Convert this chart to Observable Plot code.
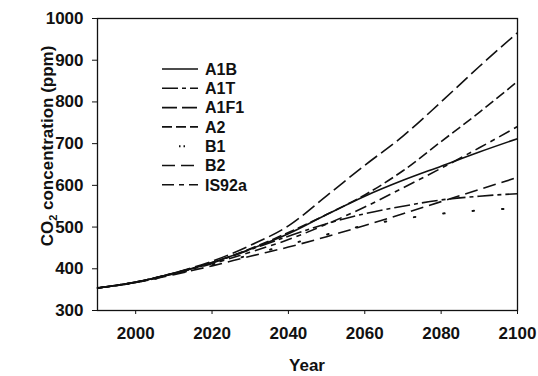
<!DOCTYPE html>
<html>
<head>
<meta charset="utf-8">
<script src="https://cdn.jsdelivr.net/npm/d3@7"></script>
<script src="https://cdn.jsdelivr.net/npm/@observablehq/plot@0.6"></script>
<style>
  html, body { margin: 0; padding: 0; background: #fff; }
  #chart { width: 538px; height: 376px; }
</style>
</head>
<body>
<div id="chart"></div>
<script>
// ---- data ----
const years = [1990, 2000, 2010, 2020, 2030, 2040, 2050, 2060, 2070, 2080, 2090, 2100];
const seriesNames = ["A1B", "A1T", "A1F1", "A2", "B1", "B2", "IS92a"];
const A1B   = [354, 368, 389, 415, 447, 484, 530, 574, 612, 646, 680, 712];
const A1T   = [354, 368, 389, 414, 446, 478, 508, 532, 550, 565, 574, 580];
const A1F1  = [354, 368, 390, 418, 456, 503, 575, 648, 718, 800, 885, 966];
const A2    = [354, 368, 390, 415, 448, 487, 530, 577, 635, 705, 775, 849];
const B1    = [354, 367, 386, 410, 433, 458, 482, 504, 520, 532, 540, 545];
const B2    = [354, 367, 386, 407, 430, 452, 477, 504, 532, 561, 590, 619];
const IS92a = [354, 367, 388, 412, 440, 470, 507, 548, 594, 641, 690, 741];
const seriesValues = [A1B, A1T, A1F1, A2, B1, B2, IS92a];
const xTicks = [2000, 2020, 2040, 2060, 2080, 2100];
const yTicks = [300, 400, 500, 600, 700, 800, 900, 1000];
const xLabel = "Year";
const yLabelParts = ["CO", "2", " concentration (ppm)"];

// line styles (dash patterns) per series
const dashes = {
  "A1B": null,
  "A1T": "16,4,4,4",
  "A1F1": "15,5",
  "A2": "10,4",
  "B1": "1.5,28",
  "B2": "13,6",
  "IS92a": "12,5,5,5"
};

const rows = seriesNames.flatMap((name, i) =>
  years.map((year, j) => ({ series: name, year, ppm: seriesValues[i][j] })));

const ink = "#111";
const font = "'Liberation Sans', Arial, Helvetica, sans-serif";

const plot = Plot.plot({
  width: 538,
  height: 376,
  marginTop: 18,
  marginBottom: 66,
  marginLeft: 97,
  marginRight: 21,
  style: { fontFamily: font, fontSize: "17px", fontWeight: "bold", color: ink, background: "#fff" },
  x: { domain: [1990, 2100], ticks: xTicks, tickFormat: d3.format("d"), label: null, tickSize: 4, tickPadding: 12 },
  y: { domain: [300, 1000], ticks: yTicks, tickFormat: d3.format("d"), label: null, tickSize: 5, tickPadding: 9 },
  marks: [
    Plot.frame({ stroke: ink, strokeWidth: 1.3 }),
    ...seriesNames.map(name =>
      Plot.line(rows.filter(r => r.series === name), {
        x: "year", y: "ppm", curve: "monotone-x",
        stroke: ink, strokeWidth: name === "B1" ? 2 : 1.6,
        strokeDasharray: dashes[name] || undefined,
        strokeLinecap: name === "B1" ? "round" : "butt"
      }))
  ]
});

document.getElementById("chart").appendChild(plot);

const svg = d3.select(plot);

// axis titles
svg.append("text")
  .attr("x", 307).attr("y", 371)
  .attr("text-anchor", "middle")
  .attr("font-family", font).attr("font-size", 17).attr("font-weight", "bold")
  .attr("fill", ink)
  .text(xLabel);

const yl = svg.append("text")
  .attr("transform", "translate(53,146) rotate(-90)")
  .attr("text-anchor", "middle")
  .attr("font-family", font).attr("font-size", 17).attr("font-weight", "bold")
  .attr("fill", ink);
yl.append("tspan").text(yLabelParts[0]);
yl.append("tspan").attr("font-size", 11).attr("dy", 4).text(yLabelParts[1]);
yl.append("tspan").attr("dy", -4).text(yLabelParts[2]);

// legend inside the plot area
const lg = svg.append("g").attr("font-family", font).attr("font-size", 16).attr("font-weight", "bold")
  .attr("text-anchor", "start");
seriesNames.forEach((name, i) => {
  const cy = 69 + i * 19.3;
  if (name === "B1") {
    lg.append("line").attr("x1", 179).attr("x2", 185).attr("y1", cy).attr("y2", cy)
      .attr("stroke", ink).attr("stroke-width", 2).attr("stroke-dasharray", "1.5,3");
  } else {
    lg.append("line").attr("x1", 162).attr("x2", 198).attr("y1", cy).attr("y2", cy)
      .attr("stroke", ink).attr("stroke-width", 1.6)
      .attr("stroke-dasharray", dashes[name] || null);
  }
  lg.append("text").attr("x", 205).attr("y", cy).attr("dy", "0.36em")
    .attr("text-anchor", "start")
    .attr("fill", ink).text(name);
});
</script>
</body>
</html>
